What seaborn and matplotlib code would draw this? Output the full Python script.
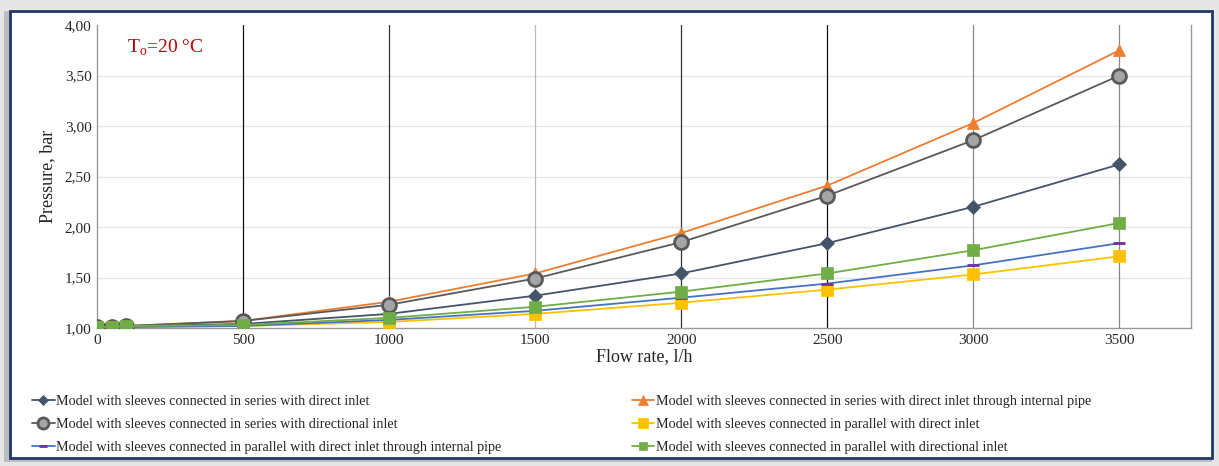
import matplotlib
matplotlib.use("Agg")
import matplotlib.pyplot as plt
import matplotlib.patches as mpatches
from matplotlib.ticker import FuncFormatter
import numpy as np
import pandas as pd
import seaborn as sns

# caudal, l/h
caudal = [0, 50, 100, 500, 1000, 1500, 2000, 2500, 3000, 3500]

serie_directa = [1.01, 1.01, 1.02, 1.04, 1.14, 1.32, 1.54, 1.84, 2.20, 2.62]
serie_tubo = [1.01, 1.01, 1.02, 1.07, 1.26, 1.54, 1.94, 2.41, 3.03, 3.75]
serie_direccional = [1.01, 1.01, 1.02, 1.07, 1.23, 1.49, 1.85, 2.31, 2.86, 3.50]
paralelo_directa = [1.01, 1.01, 1.01, 1.02, 1.06, 1.14, 1.25, 1.38, 1.53, 1.71]
paralelo_tubo = [1.01, 1.01, 1.01, 1.02, 1.08, 1.17, 1.30, 1.44, 1.62, 1.84]
paralelo_direccional = [1.01, 1.01, 1.02, 1.03, 1.10, 1.21, 1.36, 1.54, 1.77, 2.04]

etiquetas = [
    'Model with sleeves connected in series with direct inlet',
    'Model with sleeves connected in series with direct inlet through internal pipe',
    'Model with sleeves connected in series with directional inlet',
    'Model with sleeves connected in parallel with direct inlet',
    'Model with sleeves connected in parallel with direct inlet through internal pipe',
    'Model with sleeves connected in parallel with directional inlet',
]
valores = [serie_directa, serie_tubo, serie_direccional,
           paralelo_directa, paralelo_tubo, paralelo_direccional]

df = pd.DataFrame({'caudal': caudal * 6,
                   'presion': sum(valores, []),
                   'modelo': sum([[e] * len(caudal) for e in etiquetas], [])})

sns.set_style('white')
plt.rcParams['font.family'] = ['Liberation Serif', 'DejaVu Serif']
plt.rcParams['mathtext.fontset'] = 'custom'
plt.rcParams['mathtext.rm'] = 'Liberation Serif'

colores = ['#44546A', '#ED7D31', '#595959', '#FFC000', '#4472C4', '#70AD47']
marcadores = ['D', '^', 'o', 's', '_', 's']
caras = ['#44546A', '#ED7D31', '#A5A5A5', '#FFC000', '#7030A0', '#70AD47']
tamanos = [7, 9, 10, 9, 8, 8]

fig = plt.figure(figsize=(12.19, 4.66), dpi=100)
fig.patch.set_facecolor('#e6e6e6')
fig.patches.append(mpatches.Rectangle((4 / 1219, 4 / 466), 1208 / 1219, 451 / 466,
                                      transform=fig.transFigure, facecolor='#bdbdbd',
                                      edgecolor='none', zorder=-2))
fig.patches.append(mpatches.Rectangle((10 / 1219, 8 / 466), 1202 / 1219, 447 / 466,
                                      transform=fig.transFigure, facecolor='white',
                                      edgecolor='#1F3864', linewidth=2, zorder=-1))

ax = fig.add_axes([97 / 1219, 138 / 466, 1094 / 1219, 303 / 466])
ax.set_zorder(5)
ax.set_facecolor('white')

# lineas verticales
colores_v = ['#111111', '#333333', '#bbbbbb', '#333333', '#111111', '#888888', '#888888']
for xv, cv in zip([500, 1000, 1500, 2000, 2500, 3000, 3500], colores_v):
    ax.axvline(xv, color=cv, linewidth=0.9, zorder=1)
for yv in [1.5, 2.0, 2.5, 3.0, 3.5]:
    ax.axhline(yv, color='#e6e6e6', linewidth=1, zorder=0)

for i, e in enumerate(etiquetas):
    sns.lineplot(data=df[df['modelo'] == e], x='caudal', y='presion', ax=ax,
                 color=colores[i], marker=marcadores[i], markersize=tamanos[i],
                 markerfacecolor=caras[i],
                 markeredgecolor=colores[i] if marcadores[i] != '_' else '#7030A0',
                 markeredgewidth=2 if marcadores[i] in ('o', '_') else 0.5,
                 linewidth=1.3, label=e, zorder=3)

ax.set_xlim(0, 3745)
ax.set_ylim(1.0, 4.0)
ax.set_xticks([0, 500, 1000, 1500, 2000, 2500, 3000, 3500])
ax.set_yticks([1.0, 1.5, 2.0, 2.5, 3.0, 3.5, 4.0])
ax.yaxis.set_major_formatter(FuncFormatter(lambda v, p: f'{v:.2f}'.replace('.', ',')))
ax.tick_params(labelsize=11, colors='#262626', length=0, pad=4)
ax.set_xlabel('Flow rate, l/h', fontsize=13, labelpad=1)
ax.set_ylabel('Pressure, bar', fontsize=13, labelpad=6)
for s in ['left', 'bottom', 'right']:
    ax.spines[s].set_color('#999999')
    ax.spines[s].set_linewidth(1)
ax.spines['top'].set_visible(False)

ax.text(30 / 1094, 0.925, r'T$_\mathregular{o}$=20 °C', transform=ax.transAxes,
        color='#C00000', fontsize=14, va='center')

handles, labels = ax.get_legend_handles_labels()
orden = [0, 2, 4, 1, 3, 5]
ax.legend([handles[k] for k in orden], [labels[k] for k in orden], ncol=2,
          loc='upper left', bbox_to_anchor=(32 / 1219, 71 / 466),
          bbox_transform=fig.transFigure, frameon=False, fontsize=10.2,
          handlelength=1.6, handletextpad=0.1, columnspacing=9.2, labelspacing=0.7,
          markerscale=0.8, borderaxespad=0, borderpad=0)

fig.savefig('out.png', dpi=100, facecolor=fig.get_facecolor())
